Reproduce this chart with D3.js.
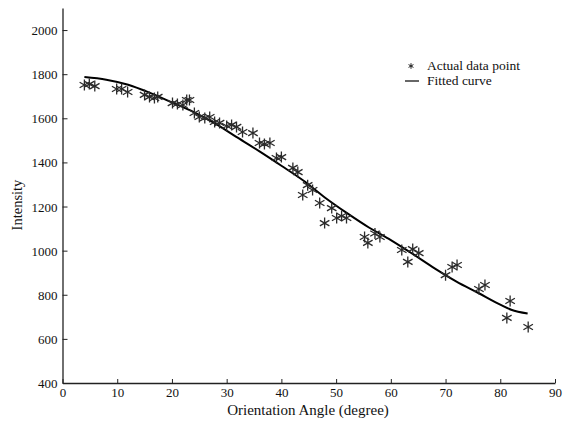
<!DOCTYPE html>
<html><head><meta charset="utf-8">
<script src="https://cdn.jsdelivr.net/npm/d3@7"></script>
<style>body{margin:0;background:#fff}svg{display:block}text{font-family:"Liberation Serif","Times New Roman","DejaVu Serif",serif;fill:#111}</style>
</head><body>
<svg id="c" width="566" height="423"></svg>
<script>
const angles = [4.0,4.9,5.9,9.9,10.8,11.9,15.0,15.9,16.8,17.4,20.1,21.0,22.0,22.7,23.2,24.1,25.0,26.0,26.9,27.8,28.7,30.0,30.9,31.8,32.9,34.8,36.0,36.9,37.9,39.1,40.0,42.1,43.0,43.9,44.8,45.7,47.0,47.9,49.2,50.1,51.0,51.9,55.2,55.8,57.1,58.0,62.0,63.1,64.0,65.1,70.0,71.2,72.1,76.1,77.2,81.2,81.8,85.1];
const intensities = [1751,1755,1746,1733,1733,1719,1706,1697,1692,1697,1669,1665,1660,1683,1683,1624,1606,1601,1606,1583,1579,1565,1570,1561,1538,1533,1488,1483,1488,1420,1424,1375,1356,1252,1297,1275,1216,1125,1193,1148,1157,1148,1062,1035,1078,1062,1003,949,1007,989,889,926,935,826,844,695,772,654];
const fitAngles = [4,8,12,16,20,24,28,32,36,40,44,48,52,56,60,64,68,72,76,80,82,85];
const fitValues = [1787,1775,1752,1715,1672,1628,1575,1512,1450,1385,1318,1240,1170,1105,1048,985,920,860,808,755,732,715];
const xTicks = [0,10,20,30,40,50,60,70,80,90];
const yTicks = [400,600,800,1000,1200,1400,1600,1800,2000];

const svg = d3.select("#c");
const x = d3.scaleLinear().domain([0,90]).range([62.5,555]);
const y = d3.scaleLinear().domain([400,2100]).range([383,8]);

const gx = svg.append("g").attr("transform","translate(0,383)")
  .call(d3.axisBottom(x).tickValues(xTicks).tickFormat(d3.format("d")).tickSize(-4).tickPadding(5).tickSizeOuter(0));
const gy = svg.append("g").attr("transform","translate(62.5,0)")
  .call(d3.axisLeft(y).tickValues(yTicks).tickFormat(d3.format("d")).tickSize(-5).tickPadding(5).tickSizeOuter(0));
[gx,gy].forEach(g=>{
  g.attr("font-family",null);
  g.select(".domain").attr("stroke","#222").attr("stroke-width",1.3);
  g.selectAll(".tick line").attr("stroke","#222").attr("stroke-width",1);
  g.selectAll(".tick text").attr("font-size",13).attr("fill","#111");
});
gy.selectAll(".tick text").attr("dy","0.35em");

svg.append("text").attr("x",308).attr("y",415).attr("text-anchor","middle").attr("font-size",15).text("Orientation Angle (degree)");
svg.append("text").attr("transform","translate(22,205) rotate(-90)").attr("text-anchor","middle").attr("font-size",14.5).text("Intensity");

const fit = fitAngles.map((a,i)=>[a,fitValues[i]]);
svg.append("path").datum(fit)
  .attr("d", d3.line().x(d=>x(d[0])).y(d=>y(d[1])).curve(d3.curveMonotoneX))
  .attr("fill","none").attr("stroke","#000").attr("stroke-width",2);

const star = d3.symbol().type(d3.symbolAsterisk).size(85);
svg.append("g").selectAll("path").data(angles.map((a,i)=>[a,intensities[i]])).join("path")
  .attr("d", star).attr("transform", d=>`translate(${x(d[0])},${y(d[1])})`)
  .attr("fill","none").attr("stroke","#2a2a2a").attr("stroke-width",1.3);

const lg = svg.append("g");
lg.append("path").attr("d", d3.symbol().type(d3.symbolAsterisk).size(22)).attr("transform","translate(411,66)").attr("fill","none").attr("stroke","#222").attr("stroke-width",1);
lg.append("text").attr("x",427).attr("y",70).attr("font-size",13.5).text("Actual data point");
lg.append("line").attr("x1",405).attr("x2",419).attr("y1",81).attr("y2",81).attr("stroke","#000").attr("stroke-width",1.2);
lg.append("text").attr("x",427).attr("y",85).attr("font-size",13.5).text("Fitted curve");
</script>
</body></html>
